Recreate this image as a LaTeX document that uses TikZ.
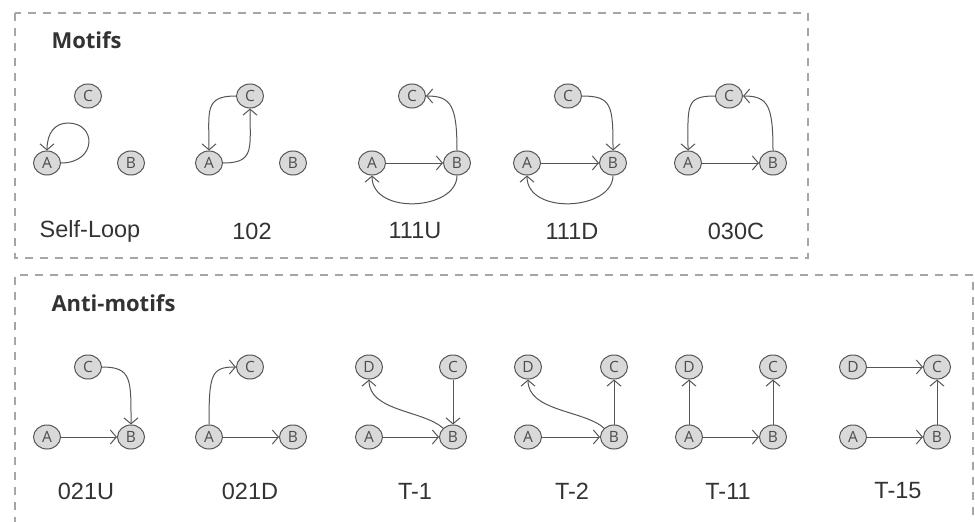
\documentclass[tikz,border=0pt]{standalone}
\usepackage{fontspec}
\setmainfont{Liberation Sans}
\newfontfamily\osans{Open Sans}
\usetikzlibrary{arrows.meta,shapes.geometric}
\definecolor{nodefill}{HTML}{D9D9D9}
\definecolor{nodedraw}{HTML}{555555}
\definecolor{edgecol}{HTML}{555555}
\definecolor{dashcol}{HTML}{A6A6A6}
\definecolor{textcol}{HTML}{333333}
\definecolor{lettercol}{HTML}{4D4D4D}
\begin{document}
\begin{tikzpicture}[x=1pt,y=-1pt,
  nd/.style={ellipse, draw=nodedraw, fill=nodefill, line width=1pt, minimum width=27pt, minimum height=24pt, inner sep=0pt, font=\osans\fontsize{15.5}{15.5}\selectfont, text=lettercol},
  ed/.style={draw=edgecol, line width=1pt, -{Straight Barb[length=6pt,width=14pt,line width=1pt]}},
  frame/.style={draw=dashcol, line width=2pt, dash pattern=on 8pt off 7pt},
  lbl/.style={font=\fontsize{23.5}{23.5}\selectfont, text=textcol},
  ttl/.style={font=\osans\bfseries\fontsize{22}{22}\selectfont, text=textcol, anchor=west}]
\useasboundingbox (0,0) rectangle (975,522);
% frames
\draw[frame] (15,13) rectangle (808,258);
\draw[frame] (15,540) -- (15,275) -- (973,275) -- (973,540);
\node[ttl] (t1) at (48,40) {Motifs};
\node[ttl] (t2) at (48,303) {Anti-motifs};
% Self-loop
\node[nd] (sC) at (88,96) {C};
\node[nd] (sA) at (47,163) {A};
\node[nd] (sB) at (131,163) {B};
\draw[ed] (sA.east) .. controls (97,163) and (97,123) .. (68,123) .. controls (55,123) and (47,133) .. (sA.north);
\node[lbl] (l1) at (90,231) {Self-Loop};
% 102
\node[nd] (aC) at (250,96) {C};
\node[nd] (aA) at (209,163) {A};
\node[nd] (aB) at (293,163) {B};
\draw[ed] (aC.west) .. controls +(-32,0) and +(0,-40) .. (aA.north);
\draw[ed] (aA.east) .. controls +(32,0) and +(0,40) .. (aC.south);
\node[lbl] (l2) at (252,231) {102};
% 111U
\node[nd] (bC) at (412,96) {C};
\node[nd] (bA) at (372,163) {A};
\node[nd] (bB) at (457,163) {B};
\draw[ed] (bA) -- (bB);
\draw[ed] (bB.north) .. controls +(0,-45) and +(25,0) .. (bC.east);
\draw[ed] (bB.south) .. controls +(0,35) and +(0,40) .. (bA.south);
\node[lbl] (l3) at (415,231) {111U};
% 111D
\node[nd] (cC) at (568,96) {C};
\node[nd] (cA) at (527,163) {A};
\node[nd] (cB) at (613,163) {B};
\draw[ed] (cA) -- (cB);
\draw[ed] (cC.east) .. controls +(30,0) and +(0,-45) .. (cB.north);
\draw[ed] (cB.south) .. controls +(0,35) and +(0,40) .. (cA.south);
\node[lbl] (l4) at (572,231) {111D};
% 030C
\node[nd] (dC) at (729,96) {C};
\node[nd] (dA) at (688,163) {A};
\node[nd] (dB) at (773,163) {B};
\draw[ed] (dA) -- (dB);
\draw[ed] (dB.north) .. controls +(0,-45) and +(25,0) .. (dC.east);
\draw[ed] (dC.west) .. controls +(-30,0) and +(0,-45) .. (dA.north);
\node[lbl] (l5) at (736,231) {030C};
% 021U
\node[nd] (eC) at (88,367) {C};
\node[nd] (eA) at (47,437) {A};
\node[nd] (eB) at (131,437) {B};
\draw[ed] (eA) -- (eB);
\draw[ed] (eC.east) .. controls +(30,0) and +(0,-45) .. (eB.north);
\node[lbl] (l6) at (86,491) {021U};
% 021D
\node[nd] (fC) at (250,367) {C};
\node[nd] (fA) at (209,437) {A};
\node[nd] (fB) at (293,437) {B};
\draw[ed] (fA) -- (fB);
\draw[ed] (fA.north) .. controls +(0,-50) and +(-25,0) .. (fC.west);
\node[lbl] (l7) at (250,491) {021D};
% T-1
\node[nd] (gD) at (369,367) {D};
\node[nd] (gC) at (453,367) {C};
\node[nd] (gA) at (369,437) {A};
\node[nd] (gB) at (453,437) {B};
\draw[ed] (gA) -- (gB);
\draw[ed] (gC) -- (gB);
\draw[ed] (gB.north west) .. controls +(-20,-18) and +(0,32) .. (gD.south);
\node[lbl] (l8) at (415,491) {T-1};
% T-2
\node[nd] (hD) at (528,367) {D};
\node[nd] (hC) at (614,367) {C};
\node[nd] (hA) at (528,437) {A};
\node[nd] (hB) at (614,437) {B};
\draw[ed] (hA) -- (hB);
\draw[ed] (hB) -- (hC);
\draw[ed] (hB.north west) .. controls +(-20,-18) and +(0,32) .. (hD.south);
\node[lbl] (l9) at (572,491) {T-2};
% T-11
\node[nd] (iD) at (689,367) {D};
\node[nd] (iC) at (773,367) {C};
\node[nd] (iA) at (689,437) {A};
\node[nd] (iB) at (773,437) {B};
\draw[ed] (iA) -- (iB);
\draw[ed] (iA) -- (iD);
\draw[ed] (iB) -- (iC);
\node[lbl] (l10) at (728,491) {T-11};
% T-15
\node[nd] (jD) at (853,367) {D};
\node[nd] (jC) at (937,367) {C};
\node[nd] (jA) at (853,437) {A};
\node[nd] (jB) at (937,437) {B};
\draw[ed] (jA) -- (jB);
\draw[ed] (jD) -- (jC);
\draw[ed] (jB) -- (jC);
\node[lbl] (l11) at (898,491) {T-15};
\end{tikzpicture}
\end{document}
